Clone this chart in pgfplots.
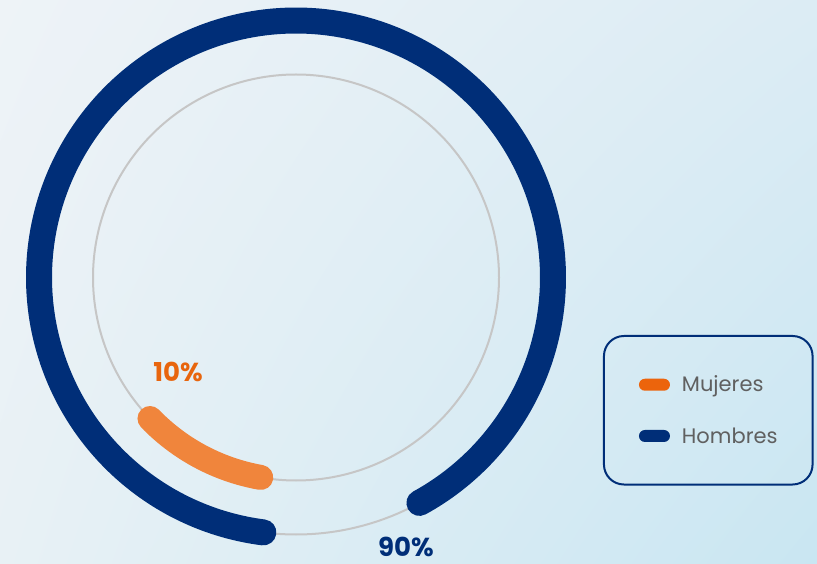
\documentclass[border=0pt]{standalone}
\usepackage{pgfplots}
\usepackage{pgfplotstable}
\pgfplotsset{compat=1.18}
\usetikzlibrary{shadings}
\usepackage{fontspec}
\setmainfont{Poppins}

\definecolor{navy}{HTML}{002E78}
\definecolor{orarc}{HTML}{F0853C}
\definecolor{orlegend}{HTML}{EC640C}
\definecolor{ortext}{HTML}{E8650D}
\definecolor{track}{HTML}{C6C6C6}
\definecolor{textgray}{HTML}{606060}
\definecolor{bgul}{HTML}{EEF3F7}
\definecolor{bgur}{HTML}{DCECF4}
\definecolor{bgll}{HTML}{E8F1F5}
\definecolor{bglr}{HTML}{C9E6F2}

% porcentaje, radio del anillo (pt), angulo de inicio (grados)
\pgfplotstableread{
genero  valor radio inicio
Mujeres 10    203   260
Hombres 90    257   262.7
}\datos
\pgfplotstablegetelem{0}{valor}\of\datos \pgfmathsetmacro\vM{\pgfplotsretval}%
\pgfplotstablegetelem{1}{valor}\of\datos \pgfmathsetmacro\vH{\pgfplotsretval}%
\pgfplotstablegetelem{0}{inicio}\of\datos \pgfmathsetmacro\iM{\pgfplotsretval}%
\pgfplotstablegetelem{1}{inicio}\of\datos \pgfmathsetmacro\iH{\pgfplotsretval}%
\pgfmathsetmacro\fM{\iM-3.6*\vM}%
\pgfmathsetmacro\fH{\iH-3.6*\vH}%

\begin{document}
\begin{tikzpicture}
\begin{axis}[
    name=ax,
    scale only axis,
    width=817pt, height=563pt,
    xmin=-296, xmax=521,
    ymin=-285.5, ymax=277.5,
    hide axis, clip=false,
    legend image code/.code={\fill[#1, draw=none, rounded corners=6pt] (0pt,-6pt) rectangle (31pt,6pt);},
    legend cell align=left,
    legend style={at={(0.738,0.405)}, anchor=north west,
        draw=navy, line width=2pt, rounded corners=20pt, fill=none,
        inner xsep=35pt, inner ysep=40pt, row sep=34pt, column sep=12pt,
        font=\fontsize{21}{25}\selectfont, text=textgray,
        nodes={inner sep=0pt}},
]
\shade[upper left=bgul, upper right=bgur, lower left=bgll, lower right=bglr]
    (rel axis cs:0,0) rectangle (rel axis cs:1,1);

% pistas grises
\addplot[forget plot, data cs=polar, domain=0:360, samples=361, track, line width=2pt] {257};
\addplot[forget plot, data cs=polar, domain=0:360, samples=361, track, line width=2pt] {203};

% arcos
\addplot[forget plot, data cs=polar, domain=\iH:\fH, samples=300, navy, line width=26pt, line cap=round] {257};
\addplot[forget plot, data cs=polar, domain=\iM:\fM, samples=60, orarc, line width=25pt, line cap=round] {203};

\node[inner sep=0pt, font=\bfseries\fontsize{26}{30}\selectfont, text=ortext] at (axis cs:-118,-94.5) {10\%};
\node[inner sep=0pt, font=\bfseries\fontsize{26}{30}\selectfont, text=navy] at (axis cs:110,-269.5) {90\%};

\addlegendimage{fill=orlegend}
\addlegendentry{Mujeres}
\addlegendimage{fill=navy}
\addlegendentry{Hombres}
\end{axis}
\pgfresetboundingbox
\path (ax.south west) rectangle (ax.north east);
\end{tikzpicture}
\end{document}
